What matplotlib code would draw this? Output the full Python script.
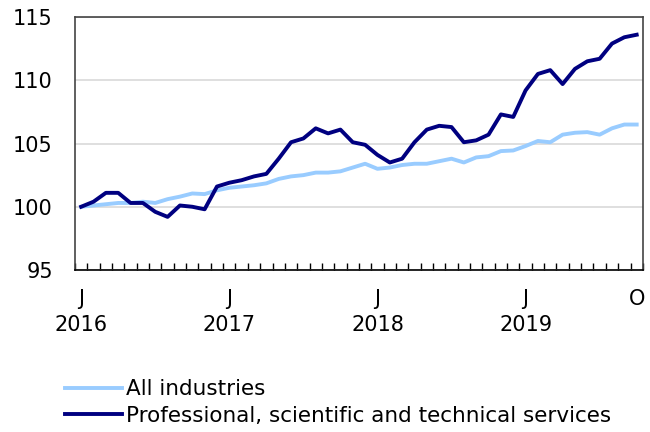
import matplotlib
matplotlib.use("Agg")
import matplotlib.pyplot as plt
import numpy as np

# monthly index, Jan 2016 = 100, Jan 2016 .. Oct 2019
all_ind = [100.0, 100.1, 100.2, 100.3, 100.3, 100.4, 100.3, 100.6, 100.8, 101.05,
           101.0, 101.3, 101.5, 101.6, 101.7, 101.85, 102.2, 102.4, 102.5, 102.7,
           102.7, 102.8, 103.1, 103.4, 103.0, 103.1, 103.3, 103.4, 103.4, 103.6,
           103.8, 103.5, 103.9, 104.0, 104.4, 104.45, 104.8, 105.2, 105.1, 105.7,
           105.85, 105.9, 105.7, 106.2, 106.5, 106.5]
prof = [100.0, 100.4, 101.1, 101.1, 100.3, 100.3, 99.6, 99.2, 100.1, 100.0,
        99.8, 101.6, 101.9, 102.1, 102.4, 102.6, 103.8, 105.1, 105.4, 106.2,
        105.8, 106.1, 105.1, 104.9, 104.1, 103.5, 103.8, 105.1, 106.1, 106.4,
        106.3, 105.1, 105.25, 105.7, 107.3, 107.1, 109.2, 110.5, 110.8, 109.7,
        110.9, 111.5, 111.7, 112.9, 113.4, 113.6]
tick_pos = [0, 12, 24, 36, 45]
tick_labels = ["J\n2016", "J\n2017", "J\n2018", "J\n2019", "O"]

x = np.arange(len(prof))

fig = plt.figure(figsize=(6.5, 4.32), dpi=100)
ax = fig.add_axes([0.1154, 0.375, 0.8736, 0.5856])

ax.plot(x, all_ind, color="#99ccff", lw=2.8, label="All industries")
ax.plot(x, prof, color="#000080", lw=2.8, label="Professional, scientific and technical services")

ax.set_xlim(-0.5, len(prof) - 0.5)
ax.set_ylim(95, 115)
ax.set_yticks([95, 100, 105, 110, 115])
ax.yaxis.grid(True, color="#d9d9d9", lw=1.2)
ax.set_axisbelow(True)
ax.tick_params(axis="y", length=0, labelsize=15, pad=16)

ax.set_xticks(tick_pos)
ax.set_xticklabels(tick_labels, fontsize=15, linespacing=1.35)
ax.set_xticks(np.arange(-0.5, len(prof), 1), minor=True)
ax.tick_params(axis="x", which="major", length=0, pad=14)
ax.tick_params(axis="x", which="minor", direction="in", length=5, width=1, color="black")

for s in ax.spines.values():
    s.set_color("#444444")
    s.set_linewidth(1.2)
ax.spines["bottom"].set_color("black")

fig.legend(loc="upper left", bbox_to_anchor=(0.1, 0.122), frameon=False,
           fontsize=15.5, handlelength=2.65, handletextpad=0.18, labelspacing=0.3,
           borderaxespad=0, borderpad=0)

fig.savefig("out.png", dpi=100)
